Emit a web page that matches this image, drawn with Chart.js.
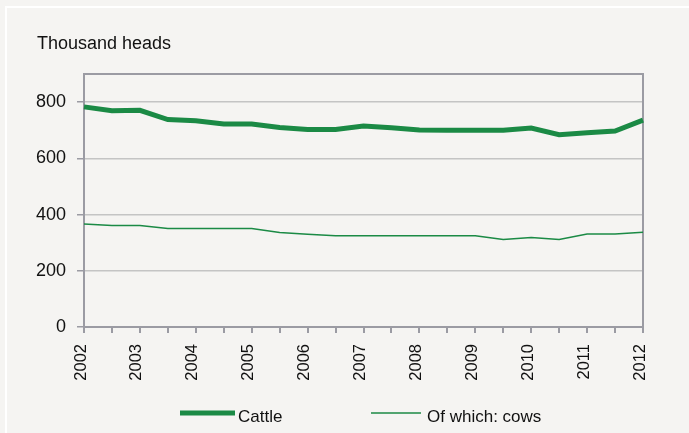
<!DOCTYPE html>
<html><head><meta charset="utf-8">
<script src="https://cdn.jsdelivr.net/npm/chart.js@4/dist/chart.umd.min.js"></script>
<style>
html,body{margin:0;padding:0;background:#f5f4f2;}
#wrap{position:relative;width:689px;height:433px;overflow:hidden;}
#frame{position:absolute;left:5px;top:6px;width:720px;height:460px;border-left:2px solid #fff;border-top:2px solid #fff;}
canvas{position:absolute;left:0;top:0;}
</style></head><body>
<div id="wrap"><div id="frame"></div><canvas id="c" width="689" height="433"></canvas></div>
<script>
const periods = [2002, 2002.5, 2003, 2003.5, 2004, 2004.5, 2005, 2005.5, 2006, 2006.5, 2007,
                 2007.5, 2008, 2008.5, 2009, 2009.5, 2010, 2010.5, 2011, 2011.5, 2012];
const cattle = [783, 769, 771, 738, 734, 722, 722, 710, 703, 703, 715,
                709, 701, 700, 700, 700, 708, 684, 691, 697, 736];
const cows = [366, 361, 361, 350, 350, 350, 350, 336, 330, 325, 325,
              325, 325, 325, 325, 311, 318, 311, 331, 331, 337];
const yearLabels = [2002, 2003, 2004, 2005, 2006, 2007, 2008, 2009, 2010, 2011, 2012];
const yTicks = [0, 200, 400, 600, 800];
const seriesNames = ['Cattle', 'Of which: cows'];
const unitLabel = 'Thousand heads';

const GREEN = '#1b8a45';
const AXIS = '#9b9ba3';
const FONT = "'Liberation Sans', Arial, sans-serif";

const extras = {
  id: 'extras',
  beforeDatasetsDraw(chart) {
    const {ctx, chartArea: a} = chart;
    ctx.save();
    ctx.strokeStyle = AXIS;
    ctx.lineWidth = 2;
    ctx.strokeRect(a.left, a.top, a.right - a.left, a.bottom - a.top);
    ctx.restore();
  },
  afterDraw(chart) {
    const {ctx} = chart;
    ctx.save();
    ctx.fillStyle = '#111';
    ctx.font = '18px ' + FONT;
    ctx.textBaseline = 'alphabetic';
    ctx.textAlign = 'left';
    ctx.fillText(unitLabel, 37, 49);
    // legend
    const ly = 413;
    const items = [
      {x0: 180, x1: 235, w: 5, tx: 238},
      {x0: 371, x1: 421, w: 1.5, tx: 427}
    ];
    items.forEach((it, i) => {
      ctx.strokeStyle = GREEN;
      ctx.lineWidth = it.w;
      ctx.beginPath();
      ctx.moveTo(it.x0, ly);
      ctx.lineTo(it.x1, ly);
      ctx.stroke();
      ctx.fillStyle = '#111';
      ctx.font = '17px ' + FONT;
      ctx.textBaseline = 'alphabetic';
      ctx.fillText(seriesNames[i], it.tx, 422);
    });
    ctx.restore();
  }
};

new Chart(document.getElementById('c'), {
  type: 'line',
  data: {
    datasets: [
      {label: seriesNames[0], data: periods.map((x, i) => ({x, y: cattle[i]})),
       borderColor: GREEN, borderWidth: 5, pointRadius: 0, tension: 0, clip: 6},
      {label: seriesNames[1], data: periods.map((x, i) => ({x, y: cows[i]})),
       borderColor: GREEN, borderWidth: 1.5, pointRadius: 0, tension: 0, clip: 6}
    ]
  },
  options: {
    responsive: false,
    animation: false,
    devicePixelRatio: 1,
    layout: {padding: {left: 0, right: 46, top: 74, bottom: 0}},
    plugins: {legend: {display: false}, tooltip: {enabled: false}},
    scales: {
      x: {
        type: 'linear', min: 2002, max: 2012,
        afterBuildTicks(s) { s.ticks = periods.map(v => ({value: v})); },
        afterFit(s) { s.height = 106; },
        grid: {drawOnChartArea: false, drawTicks: true, tickLength: 6, tickColor: AXIS, lineWidth: 2},
        border: {display: false},
        ticks: {
          autoSkip: false, minRotation: 90, maxRotation: 90, padding: 11, labelOffset: -3,
          color: '#111', font: {family: FONT, size: 16.5},
          callback: v => yearLabels.includes(v) ? String(v) : ''
        }
      },
      y: {
        min: 0, max: 900,
        afterBuildTicks(s) { s.ticks = yTicks.map(v => ({value: v})); },
        afterFit(s) { s.width = 84; },
        grid: {color: '#c4c4c4', lineWidth: 1.5, tickColor: AXIS, tickLength: 7},
        border: {display: false},
        ticks: {padding: 11, color: '#111', font: {family: FONT, size: 18}}
      }
    }
  },
  plugins: [extras]
});
</script>
</body></html>
